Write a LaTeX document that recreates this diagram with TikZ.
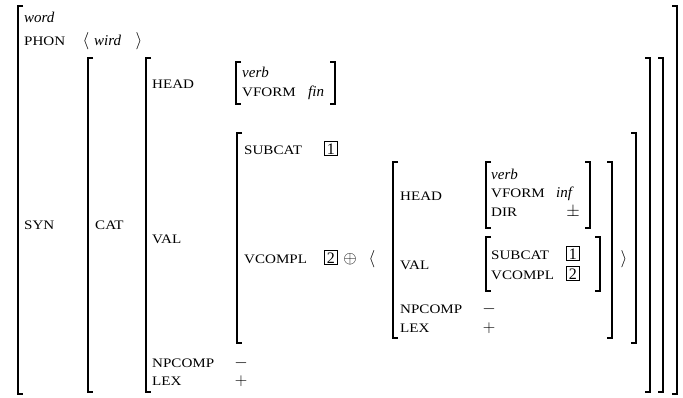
\documentclass[tikz,border=0pt]{standalone}
\usepackage{fontspec}
\setmainfont{Liberation Serif}
\newfontfamily\lblfamily[FakeStretch=1.16]{Liberation Serif}
\newcommand{\avmL}[3]{\draw[brk] (#1+5,#2) -- (#1,#2) -- (#1,#3) -- (#1+5,#3);}
\newcommand{\avmR}[3]{\draw[brk] (#1-5,#2) -- (#1,#2) -- (#1,#3) -- (#1-5,#3);}
\begin{document}
\begin{tikzpicture}[x=1pt,y=-1pt,
  brk/.style={line width=1.2pt,line cap=butt,line join=miter},
  lbl/.style={anchor=base west,inner sep=0pt,font=\lblfamily\fontsize{13}{13}\selectfont},
  val/.style={anchor=base west,inner sep=0pt,font=\fontsize{15}{15}\selectfont},
  vsym/.style={anchor=base,inner sep=0pt,font=\fontsize{17}{17}\selectfont},
  tagbox/.style={draw,line width=0.8pt,inner sep=0pt,minimum width=13pt,minimum height=14pt,anchor=base west,font=\fontsize{16}{16}\selectfont,text depth=0pt}]
\useasboundingbox[fill=white] (0,0) rectangle (683,397);
% outer
\avmL{18}{6}{394}
\avmR{677}{6}{394}
\node[val] (word) at (24,22) {\itshape word};
\node[lbl] (phon) at (24,45) {PHON};
\node[vsym] (pl) at (86,45) {$\langle$};
\node[val] (wird) at (94,45) {\itshape wird};
\node[vsym] (pr) at (139,45) {$\rangle$};
\node[lbl] (syn) at (24,229) {SYN};
% SYN value
\avmL{88}{58}{392}
\avmR{663}{58}{392}
\node[lbl] (cat) at (95,229) {CAT};
% CAT value
\avmL{146}{58}{392}
\avmR{650}{58}{392}
\node[lbl] (head) at (152,88) {HEAD};
\avmL{236}{62}{104}
\avmR{335}{62}{104}
\node[val] (verb1) at (242,77) {\itshape verb};
\node[lbl] (vform1) at (242,96) {VFORM};
\node[val] (fin) at (308,96) {\itshape fin};
\node[lbl] (val) at (152,243) {VAL};
% VAL value
\avmL{237}{133}{343}
\avmR{636}{133}{343}
\node[lbl] (subcat1) at (244,154) {SUBCAT};
\node[tagbox] (t1a) at (324,154) {1};
\node[lbl] (vcompl1) at (244,263) {VCOMPL};
\node[tagbox] (t2a) at (324,263) {2};
\node[vsym] (oplus) at (350,263) {$\oplus$};
\node[vsym] (lang) at (372,263) {$\langle$};
% list element
\avmL{393}{162}{338}
\avmR{612}{162}{338}
\node[vsym] (rang) at (624,263) {$\rangle$};
\node[lbl] (head2) at (400,200) {HEAD};
\avmL{486}{162}{228}
\avmR{590}{162}{228}
\node[val] (verb2) at (491,179) {\itshape verb};
\node[lbl] (vform2) at (491,197) {VFORM};
\node[val] (inf) at (556,197) {\itshape inf};
\node[lbl] (dir) at (491,216) {DIR};
\node[vsym] (pm) at (573,216) {$\pm$};
\node[lbl] (val2) at (400,269) {VAL};
\avmL{486}{237}{291}
\avmR{600}{237}{291}
\node[lbl] (subcat2) at (491,259) {SUBCAT};
\node[tagbox] (t1b) at (566,259) {1};
\node[lbl] (vcompl2) at (491,279) {VCOMPL};
\node[tagbox] (t2b) at (566,279) {2};
\node[lbl] (npc2) at (400,313) {NPCOMP};
\node[vsym] (m2) at (489,313) {$-$};
\node[lbl] (lex2) at (400,332) {LEX};
\node[vsym] (p2) at (489,332) {$+$};
% outer NPCOMP/LEX
\node[lbl] (npc1) at (152,367) {NPCOMP};
\node[vsym] (m1) at (241,367) {$-$};
\node[lbl] (lex1) at (152,385) {LEX};
\node[vsym] (p1) at (241,385) {$+$};
\end{tikzpicture}
\end{document}
